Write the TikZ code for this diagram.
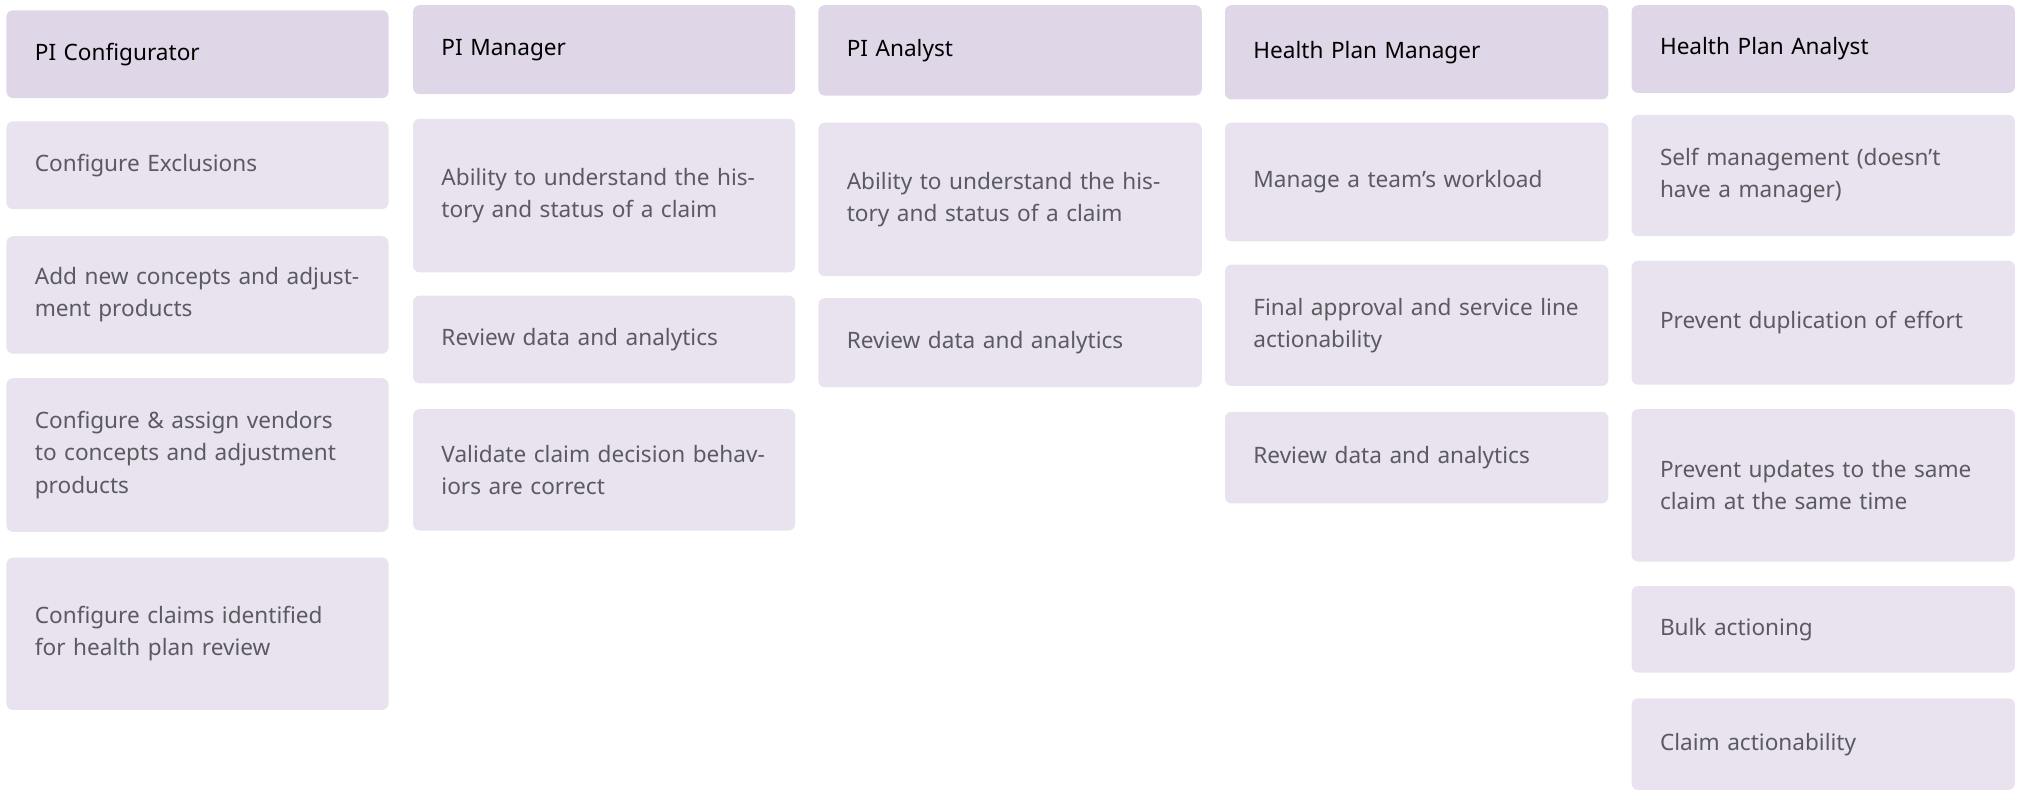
\documentclass[tikz,border=0pt]{standalone}
\usepackage{fontspec}
\setmainfont{Noto Sans}
\definecolor{hdr}{HTML}{DFD7E7}
\definecolor{crd}{HTML}{E9E3EF}
\definecolor{txt}{HTML}{5C5A5F}
\tikzset{
 box/.style={rounded corners=5pt, inner xsep=22pt, inner ysep=0pt, align=left, anchor=center, font=\fontsize{17.5}{25}\selectfont},
 card/.style={box, fill=crd, text=txt},
 head/.style={box, fill=hdr, text=black, font=\fontsize{17.5}{25}\selectfont\bfseries},
}
\newcommand\mybox[7]{%
 \node[#1, minimum width={#4-#2}, minimum height={#5-#3}, text width={#4-#2-44}] (#6) at ({(#2+#4)/2},{(#3+#5)/2}) {#7};}
\begin{document}
\begin{tikzpicture}[x=1pt,y=-1pt]
\useasboundingbox (0,0) rectangle (1568,621);
% col 1
\mybox{head}{5}{8}{301}{76}{h1}{PI Configurator}
\mybox{card}{5}{94}{301}{162}{c11}{Configure Exclusions}
\mybox{card}{5}{183}{301}{274}{c12}{Add new concepts and adjustment products}
\mybox{card}{5}{293}{301}{412}{c13}{Configure \& assign vendors to concepts and adjustment products}
\mybox{card}{5}{432}{301}{550}{c14}{Configure claims identified for health plan review}
% col 2
\mybox{head}{320}{4}{616}{73}{h2}{PI Manager}
\mybox{card}{320}{92}{616}{211}{c21}{Ability to understand the history and status of a claim}
\mybox{card}{320}{229}{616}{297}{c22}{Review data and analytics}
\mybox{card}{320}{317}{616}{411}{c23}{Validate claim decision behaviors are correct}
% col 3
\mybox{head}{634}{4}{931}{74}{h3}{PI Analyst}
\mybox{card}{634}{95}{931}{214}{c31}{Ability to understand the history and status of a claim}
\mybox{card}{634}{231}{931}{300}{c32}{Review data and analytics}
% col 4
\mybox{head}{949}{4}{1246}{77}{h4}{Health Plan Manager}
\mybox{card}{949}{95}{1246}{187}{c41}{Manage a team's workload}
\mybox{card}{949}{205}{1246}{299}{c42}{Final approval and service line actionability}
\mybox{card}{949}{319}{1246}{390}{c43}{Review data and analytics}
% col 5
\mybox{head}{1264}{4}{1561}{72}{h5}{Health Plan Analyst}
\mybox{card}{1264}{89}{1561}{183}{c51}{Self management (doesn't have a manager)}
\mybox{card}{1264}{202}{1561}{298}{c52}{Prevent duplication of effort}
\mybox{card}{1264}{317}{1561}{435}{c53}{Prevent updates to the same claim at the same time}
\mybox{card}{1264}{454}{1561}{521}{c54}{Bulk actioning}
\mybox{card}{1264}{541}{1561}{612}{c55}{Claim actionability}
\end{tikzpicture}
\end{document}
